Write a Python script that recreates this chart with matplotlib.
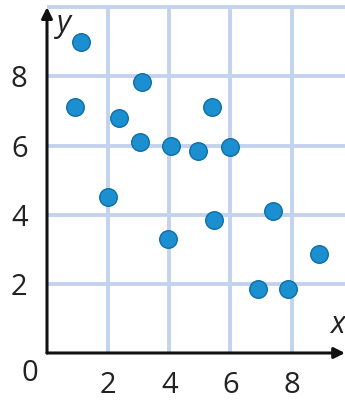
import matplotlib
matplotlib.use("Agg")
from matplotlib import pyplot as plt

x_values = [1.1, 0.9, 3.1, 2.35, 3.05, 4.05, 5.4, 4.95, 6.0, 2.0, 3.95, 5.45, 7.4, 8.9, 6.9, 7.9]
y_values = [9.0, 7.1, 7.85, 6.8, 6.1, 6.0, 7.1, 5.85, 5.95, 4.5, 3.3, 3.85, 4.1, 2.85, 1.85, 1.85]

tick_values = [2, 4, 6, 8]
tick_labels = ["2", "4", "6", "8"]

x_max = 9.75
y_max = 10.15


def main():
    plt.rcParams["font.family"] = ["Open Sans", "DejaVu Sans"]

    figure = plt.figure(figsize=(3.45, 4.03), dpi=100)
    axis = figure.add_axes([47 / 345, 50 / 403, 298 / 345, (353 - 2) / 403])
    axis.set_xlim(0, x_max)
    axis.set_ylim(0, y_max)

    grid_color = "#c3d2ee"
    for value in tick_values:
        axis.plot([value, value], [0, 10], color=grid_color, linewidth=2.8, zorder=1,
                  solid_capstyle="butt")
    for value in tick_values + [10]:
        axis.plot([0, x_max], [value, value], color=grid_color, linewidth=2.8, zorder=1,
                  solid_capstyle="butt")

    for spine in axis.spines.values():
        spine.set_visible(False)

    # axes with arrows
    axis.annotate("", xy=(x_max, 0), xytext=(0, 0),
                  arrowprops=dict(arrowstyle="-|>", color="#111111", linewidth=2.2,
                                  mutation_scale=16, shrinkA=0, shrinkB=0),
                  annotation_clip=False, zorder=3)
    axis.annotate("", xy=(0, 10.0), xytext=(0, 0),
                  arrowprops=dict(arrowstyle="-|>", color="#111111", linewidth=2.2,
                                  mutation_scale=16, shrinkA=0, shrinkB=0),
                  annotation_clip=False, zorder=3)

    axis.scatter(x_values, y_values, s=160, color="#1b8fcf", edgecolors="#0d6fa6",
                 linewidths=1.0, zorder=4)

    axis.set_xticks(tick_values)
    axis.set_xticklabels(tick_labels)
    axis.set_yticks(tick_values)
    axis.set_yticklabels(tick_labels)
    axis.tick_params(axis="both", length=0, labelsize=21, colors="#222222")
    axis.tick_params(axis="x", pad=13)
    axis.tick_params(axis="y", pad=14)

    axis.text(-0.55, -0.6, "0", fontsize=21, color="#222222", ha="center", va="center",
              clip_on=False)
    axis.text(0.55, 9.5, "y", fontsize=22, style="italic", color="#222222",
              ha="center", va="center", clip_on=False)
    axis.text(9.5, 0.8, "x", fontsize=22, style="italic", color="#222222",
              ha="center", va="center", clip_on=False)

    figure.savefig("out.png", dpi=100)


if __name__ == '__main__':
    main()
